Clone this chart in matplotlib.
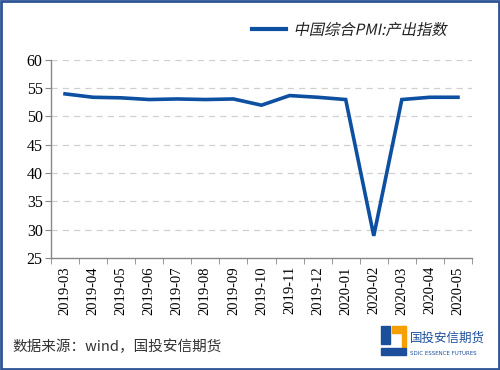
import matplotlib
matplotlib.use("Agg")
import matplotlib.pyplot as plt
from matplotlib.patches import Rectangle
from matplotlib.patheffects import AbstractPathEffect
from matplotlib.transforms import Affine2D
import numpy as np

categories = ["2019-03", "2019-04", "2019-05", "2019-06", "2019-07", "2019-08",
              "2019-09", "2019-10", "2019-11", "2019-12", "2020-01", "2020-02",
              "2020-03", "2020-04", "2020-05"]
values = [54.0, 53.4, 53.3, 53.0, 53.1, 53.0, 53.1, 52.0, 53.7, 53.4, 53.0, 28.9,
          53.0, 53.4, 53.4]
series_name = "中国综合PMI:产出指数"
yticks = [25, 30, 35, 40, 45, 50, 55, 60]

cjk = ["Noto Sans CJK SC", "DejaVu Sans"]
serif = ["Liberation Serif", "DejaVu Serif"]


class Oblique(AbstractPathEffect):
    def __init__(self, deg=12):
        super().__init__()
        self.deg = deg

    def draw_path(self, renderer, gc, tpath, affine, rgbFace=None):
        renderer.draw_path(gc, tpath, Affine2D().skew_deg(self.deg, 0) + affine, rgbFace)


fig = plt.figure(figsize=(5, 3.7), dpi=100)
ax = fig.add_axes([0.102, 0.303, 0.842, 0.535])
x = np.arange(len(categories))
line, = ax.plot(x, values, color="#0d4fa0", lw=2.6, solid_joinstyle="miter")
ax.set_xlim(-0.5, len(categories) - 0.5)
ax.set_ylim(25, 60)
ax.set_yticks(yticks)
ax.set_yticklabels([str(v) for v in yticks], fontfamily=serif, fontsize=11.5)
ax.set_xticks(x)
ax.set_xticklabels(categories, rotation=90, fontfamily=serif, fontsize=10.5)
ax.set_xticks(np.arange(-0.5, len(categories)), minor=True)
ax.tick_params(axis="x", which="major", length=0, pad=6)
ax.tick_params(axis="x", which="minor", length=4, color="#888888", direction="out")
ax.tick_params(axis="y", length=4, color="#888888", direction="out", pad=2)
for s in ["top", "right"]:
    ax.spines[s].set_visible(False)
for s in ["left", "bottom"]:
    ax.spines[s].set_color("#888888")
    ax.spines[s].set_linewidth(1.0)
for v in yticks[1:]:
    ax.axhline(v, color="#d0d0d0", lw=0.9, ls=(0, (5, 4)), zorder=0)

leg = fig.legend([line], [series_name], loc="center left",
                 bbox_to_anchor=(0.477, 0.918), frameon=False,
                 prop={"family": cjk, "size": 11},
                 handlelength=2.2, handletextpad=0.5)
for t in leg.get_texts():
    t.set_path_effects([Oblique(12)])
    t.set_color("#222222")
for h in leg.get_lines():
    h.set_linewidth(3)

fig.text(0.024, 0.062, "数据来源：wind，国投安信期货", fontfamily=cjk, fontsize=10.5,
         color="#333333", va="center")

# logo
fig.patches.append(Rectangle((0.762, 0.07), 0.018, 0.05, transform=fig.transFigure,
                             color="#1b4f9c"))
fig.patches.append(Rectangle((0.784, 0.10), 0.026, 0.02, transform=fig.transFigure,
                             color="#f5a000"))
fig.patches.append(Rectangle((0.804, 0.06), 0.008, 0.06, transform=fig.transFigure,
                             color="#f5a000"))
fig.patches.append(Rectangle((0.762, 0.04), 0.05, 0.02, transform=fig.transFigure,
                             color="#1b4f9c"))
fig.text(0.82, 0.085, "国投安信期货", fontfamily=cjk, fontsize=9, color="#1b4f9c",
         va="center")
fig.text(0.82, 0.045, "SDIC ESSENCE FUTURES", fontfamily=["DejaVu Sans"], fontsize=4,
         color="#1b4f9c", va="center")

# outer frame
fig.patches.append(Rectangle((0.002, 0.003), 0.996, 0.994, transform=fig.transFigure,
                             fill=False, ec="#2e5496", lw=2))

fig.savefig("out.png", dpi=100)
